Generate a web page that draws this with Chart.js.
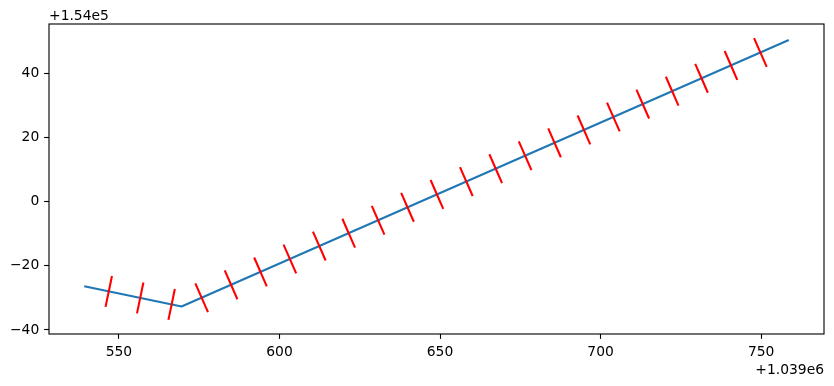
<!DOCTYPE html>
<html><head><meta charset="utf-8">
<script src="https://cdn.jsdelivr.net/npm/chart.js@4/dist/chart.umd.min.js"></script>
<style>html,body{margin:0;padding:0;background:#fff}#wrap{width:834px;height:386px;position:relative}</style>
</head><body><div id="wrap"><canvas id="c" width="834" height="386"></canvas></div>
<script>
// Offsets shown as matplotlib offset text
const xOffsetLabel = '+1.039e6';
const yOffsetLabel = '+1.54e5';

// Blue path (values relative to the offsets)
const pathX = [539.2, 569.5, 758.6];
const pathY = [-26.4, -32.7, 50.3];

// Red normal markers: endpoint 1 and endpoint 2 of each short segment
const normX1 = [545.84, 555.63, 565.42, 573.80, 582.96, 592.12, 601.27, 610.43, 619.59, 628.75, 637.90, 647.06, 656.22, 665.37, 674.53, 683.69, 692.84, 702.00, 711.16, 720.32, 729.47, 738.63, 747.79];
const normY1 = [-32.79, -34.82, -36.86, -25.46, -21.44, -17.42, -13.40, -9.38, -5.36, -1.34, 2.68, 6.70, 10.71, 14.73, 18.75, 22.77, 26.79, 30.81, 34.83, 38.85, 42.87, 46.89, 50.90];
const normX2 = [547.84, 557.63, 567.42, 577.74, 586.90, 596.06, 605.21, 614.37, 623.53, 632.69, 641.84, 651.00, 660.16, 669.31, 678.47, 687.63, 696.78, 705.94, 715.10, 724.26, 733.41, 742.57, 751.73];
const normY2 = [-23.19, -25.22, -27.26, -34.44, -30.42, -26.40, -22.38, -18.36, -14.34, -10.32, -6.30, -2.28, 1.73, 5.75, 9.77, 13.79, 17.81, 21.83, 25.85, 29.87, 33.89, 37.91, 41.92];

// Tick labels
const xTicks = [550, 600, 650, 700, 750];
const yTicks = [-40, -20, 0, 20, 40];

const FONT = '"DejaVu Sans", sans-serif';
const PT = 100 / 72;

const datasets = [];
datasets.push({
  data: pathX.map((x, i) => ({x, y: pathY[i]})),
  showLine: true, borderColor: '#1f77b4', borderWidth: 1.5 * PT,
  pointRadius: 0, pointHoverRadius: 0, order: 2, tension: 0,
  borderCapStyle: 'butt', borderJoinStyle: 'round'
});
for (let i = 0; i < normX1.length; i++) {
  datasets.push({
    data: [{x: normX1[i], y: normY1[i]}, {x: normX2[i], y: normY2[i]}],
    showLine: true, borderColor: '#ff0000', borderWidth: 1.5 * PT,
    pointRadius: 0, pointHoverRadius: 0, order: 1,
    borderCapStyle: 'butt'
  });
}

const allX = pathX.concat(normX1, normX2);
const allY = pathY.concat(normY1, normY2);
function padRange(arr) {
  const lo = Math.min(...arr), hi = Math.max(...arr);
  const p = (hi - lo) * 0.05;
  return [lo - p, hi + p];
}
const [xMin, xMax] = padRange(allX);
const [yMin, yMax] = padRange(allY);

const fmt = v => (v < 0 ? '\u2212' + Math.abs(v) : String(v));

const framePlugin = {
  id: 'frame',
  afterDraw(chart) {
    const {ctx, chartArea: a} = chart;
    ctx.save();
    ctx.strokeStyle = '#000';
    ctx.lineWidth = 0.8 * PT;
    ctx.strokeRect(a.left, a.top, a.right - a.left, a.bottom - a.top);
    ctx.fillStyle = '#000';
    ctx.font = (10 * PT) + 'px ' + FONT;
    ctx.textAlign = 'left';
    ctx.textBaseline = 'alphabetic';
    ctx.fillText(yOffsetLabel, a.left, a.top - 3.6);
    ctx.textAlign = 'right';
    ctx.fillText(xOffsetLabel, a.right, a.bottom + 40);
    ctx.restore();
  }
};

new Chart(document.getElementById('c'), {
  type: 'scatter',
  data: {datasets},
  options: {
    responsive: false, animation: false, devicePixelRatio: 1,
    layout: {padding: {left: 0, right: 10, top: 24, bottom: 0}},
    plugins: {legend: {display: false}, tooltip: {enabled: false}},
    events: [],
    scales: {
      x: {
        type: 'linear', min: xMin, max: xMax,
        afterBuildTicks: s => { s.ticks = xTicks.map(v => ({value: v})); },
        afterFit: s => { s.height = 52; },
        border: {display: false},
        grid: {drawOnChartArea: false, drawTicks: true, tickLength: 3.5 * PT, tickWidth: 0.8 * PT, tickColor: '#000'},
        ticks: {color: '#000', font: {family: FONT, size: 10 * PT}, padding: 3.5 * PT, maxRotation: 0, autoSkip: false, callback: v => fmt(v)}
      },
      y: {
        type: 'linear', min: yMin, max: yMax,
        afterBuildTicks: s => { s.ticks = yTicks.map(v => ({value: v})); },
        afterFit: s => { s.width = 49; },
        border: {display: false},
        grid: {drawOnChartArea: false, drawTicks: true, tickLength: 3.5 * PT, tickWidth: 0.8 * PT, tickColor: '#000'},
        ticks: {color: '#000', font: {family: FONT, size: 10 * PT}, padding: 3.5 * PT, autoSkip: false, callback: v => fmt(v)}
      }
    }
  },
  plugins: [framePlugin]
});
</script>
</body></html>
